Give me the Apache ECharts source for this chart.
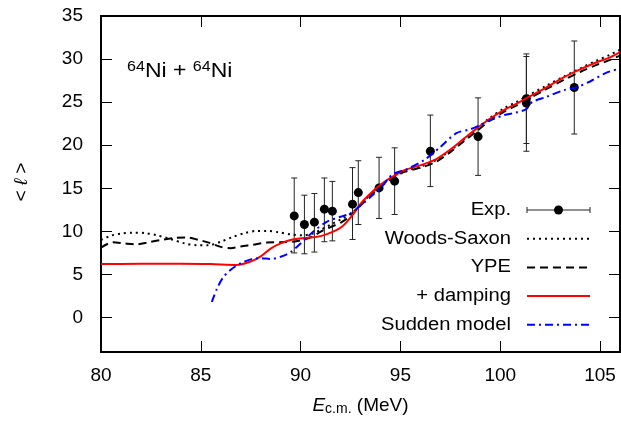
<!DOCTYPE html>
<html>
<head>
<meta charset="utf-8">
<title>64Ni + 64Ni mean angular momentum</title>
<script src="https://cdn.jsdelivr.net/npm/echarts@6/dist/echarts.min.js"></script>
<style>
  html, body { margin: 0; padding: 0; background: #ffffff; }
  #chart { width: 621px; height: 426px; }
</style>
</head>
<body>
<div id="chart"></div>
<script>
// Measured mean angular momentum <l> (MeV c.m. energy, value, error-bar ends)
const expE  = [89.68, 90.19, 90.69, 91.19, 91.59, 92.60, 92.89, 93.93, 94.71, 96.50, 98.89, 101.31, 101.31, 103.71];
const expL  = [11.8, 10.8, 11.07, 12.58, 12.35, 13.16, 14.5, 15.05, 15.83, 19.3, 21.0, 25.4, 24.9, 26.7];
const expHi = [16.2, 14.2, 14.4, 16.2, 15.8, 17.4, 18.2, 18.6, 19.7, 23.5, 25.5, 30.6, 30.3, 32.1];
const expLo = [7.5, 7.4, 7.6, 8.8, 8.9, 9.06, 10.8, 11.5, 11.96, 15.2, 16.5, 20.2, 19.3, 21.3];

// Woods-Saxon potential
const wsE = [80, 80.5, 81, 81.6, 82.2, 82.8, 83.5, 84.2, 84.8, 85.4, 86, 86.6, 87.2, 87.8, 88.3, 88.9, 89.5, 90.1, 90.6, 91.1, 91.6, 92.1, 92.6, 93, 93.5, 94, 94.5, 95.2, 96.1, 96.8, 97.5, 98.2, 98.8, 99.5, 100.2, 100.8, 101.5, 102.3, 103.2, 104, 104.8, 105.5, 106];
const wsL = [9.0, 9.5, 9.75, 9.85, 9.8, 9.55, 9.1, 8.6, 8.4, 8.4, 8.8, 9.35, 9.8, 10.05, 10.05, 9.9, 9.65, 9.55, 9.75, 10.3, 10.9, 11.5, 12.2, 13.1, 14.3, 15.3, 16.1, 17.0, 17.6, 18.3, 19.4, 20.7, 21.9, 23.2, 24.3, 25.0, 25.9, 26.9, 28.0, 28.9, 29.8, 30.5, 31.1];

// YPE potential
const ypeE = [80, 80.6, 81.2, 81.8, 82.4, 83, 83.7, 84.3, 84.9, 85.4, 86, 86.5, 87, 87.6, 88.3, 89, 89.6, 90.1, 90.6, 91.1, 91.5, 92, 92.5, 93, 93.5, 94, 94.5, 95.2, 96.1, 96.8, 97.5, 98.2, 98.8, 99.5, 100.2, 100.8, 101.5, 102.3, 103.2, 104, 104.8, 105.5, 106];
const ypeL = [8.1, 8.75, 8.6, 8.5, 8.75, 9.0, 9.25, 9.3, 9.0, 8.7, 8.2, 8.05, 8.25, 8.45, 8.7, 8.75, 8.8, 9.0, 9.4, 10.1, 10.5, 11.0, 11.8, 13.0, 14.2, 15.2, 16.0, 16.9, 17.45, 18.1, 19.2, 20.5, 21.6, 22.9, 23.9, 24.6, 25.5, 26.5, 27.6, 28.5, 29.3, 29.9, 30.4];

// YPE + damping
const dampE = [80, 82, 84, 85.5, 86.8, 87.5, 88, 88.5, 89, 89.6, 90.3, 91, 91.6, 92.1, 92.6, 93, 93.5, 94, 94.5, 95.2, 96.1, 96.8, 97.5, 98.2, 98.8, 99.5, 100.2, 100.8, 101.5, 102.3, 103.2, 104, 104.8, 105.5, 106];
const dampL = [6.2, 6.25, 6.25, 6.2, 6.1, 6.5, 7.1, 8.0, 8.6, 9.05, 9.25, 9.45, 9.95, 10.6, 11.9, 13.2, 14.4, 15.4, 16.2, 17.1, 17.75, 18.4, 19.5, 20.8, 21.9, 23.1, 24.1, 24.8, 25.7, 26.7, 27.9, 28.8, 29.6, 30.2, 30.8];

// Sudden model
const sudE = [85.55, 85.8, 86.1, 86.5, 87.0, 87.5, 88.0, 88.5, 89.0, 89.5, 90.0, 90.6, 91.3, 92.0, 92.5, 93.0, 93.6, 94.1, 94.6, 95.3, 96.2, 97.0, 97.8, 98.5, 99.0, 99.5, 100.2, 100.8, 101.3, 101.6, 102.3, 103.2, 103.8, 104.5, 105.3, 106];
const sudL = [1.8, 3.3, 4.6, 5.55, 6.3, 6.75, 6.9, 6.8, 7.05, 7.6, 8.6, 9.9, 11.1, 11.7, 12.1, 13.0, 14.2, 15.3, 16.6, 17.2, 18.3, 19.8, 21.4, 21.85, 22.35, 22.9, 23.5, 23.8, 24.2, 25.0, 25.6, 26.4, 26.7, 27.4, 28.4, 28.9];

const legendNames = ['Exp.', 'Woods-Saxon', 'YPE', '+ damping', 'Sudden model'];

const FONT = '"Liberation Sans", Arial, Helvetica, sans-serif';
const zip = (xs, ys) => xs.map((x, i) => [x, ys[i]]);

const styles = {
  ws:   { color: '#000000', width: 2, type: [2, 4] },
  ype:  { color: '#000000', width: 2, type: [8, 5] },
  damp: { color: '#ff0000', width: 2, type: 'solid' },
  sud:  { color: '#0000ff', width: 2, type: [8, 4, 2, 4] }
};

function lineSeries(name, xs, ys, st) {
  return {
    name: name, type: 'line', data: zip(xs, ys),
    smooth: 0.3, showSymbol: false, symbol: 'none', z: 4,
    lineStyle: { color: st.color, width: st.width, type: st.type },
    itemStyle: { color: st.color }
  };
}

const chart = echarts.init(document.getElementById('chart'), null, { renderer: 'canvas' });

const axisCommon = {
  type: 'value',
  axisLine: { show: true, onZero: false, lineStyle: { color: '#000', width: 2 } },
  axisTick: { show: true, inside: true, length: 11, lineStyle: { color: '#000', width: 1 } },
  splitLine: { show: false }
};

// Legend rows built from the series styles
const legX = 511, lineX0 = 527, lineX1 = 590, rowY0 = 210, rowGap = 28.7;
const legendGraphics = [];
legendNames.forEach((nm, i) => {
  const y = rowY0 + i * rowGap;
  legendGraphics.push({
    type: 'text', x: legX, y: y, scaleX: 1.12, z: 10,
    style: { text: nm, font: '18px ' + FONT, fill: '#000', align: 'right', verticalAlign: 'middle' }
  });
});
[styles.ws, styles.ype, styles.damp, styles.sud].forEach((st, k) => {
  const y = rowY0 + (k + 1) * rowGap;
  legendGraphics.push({
    type: 'line', z: 10,
    shape: { x1: lineX0, y1: y, x2: lineX1, y2: y },
    style: { stroke: st.color, lineWidth: st.width, lineDash: Array.isArray(st.type) ? st.type : null }
  });
});
// Exp. sample: horizontal bar with caps and a dot
legendGraphics.push(
  { type: 'line', z: 10, shape: { x1: lineX0, y1: rowY0, x2: lineX1, y2: rowY0 }, style: { stroke: '#222', lineWidth: 1 } },
  { type: 'line', z: 10, shape: { x1: lineX0, y1: rowY0 - 3, x2: lineX0, y2: rowY0 + 3 }, style: { stroke: '#222', lineWidth: 1 } },
  { type: 'line', z: 10, shape: { x1: lineX1, y1: rowY0 - 3, x2: lineX1, y2: rowY0 + 3 }, style: { stroke: '#222', lineWidth: 1 } },
  { type: 'circle', z: 10, shape: { cx: (lineX0 + lineX1) / 2, cy: rowY0, r: 4.5 }, style: { fill: '#000' } }
);

const option = {
  animation: false,
  backgroundColor: '#ffffff',
  textStyle: { fontFamily: FONT },
  grid: { left: 101, right: 1, top: 16, bottom: 74, containLabel: false },
  xAxis: [
    Object.assign({}, axisCommon, {
      min: 80, max: 106, interval: 5, position: 'bottom',
      axisLabel: { color: '#000', fontSize: 19, margin: 14, fontFamily: FONT },
      name: '{i|E}{sub|c.m.}{n| (MeV)}',
      nameLocation: 'middle', nameGap: 44,
      nameTextStyle: {
        rich: {
          i: { fontSize: 19, fontStyle: 'italic', color: '#000', fontFamily: FONT, lineHeight: 20 },
          sub: { fontSize: 14, color: '#000', fontFamily: FONT, verticalAlign: 'bottom', lineHeight: 14, padding: [10, 0, 0, 0] },
          n: { fontSize: 19, color: '#000', fontFamily: FONT, lineHeight: 20 }
        }
      }
    }),
    Object.assign({}, axisCommon, {
      min: 80, max: 106, interval: 5, position: 'top',
      axisLabel: { show: false }
    })
  ],
  yAxis: [
    Object.assign({}, axisCommon, {
      min: -4, max: 35, minInterval: 5, maxInterval: 5, splitNumber: 8, position: 'left',
      axisLabel: {
        color: '#000', fontSize: 19, margin: 18, fontFamily: FONT,
        formatter: v => (Math.abs(v % 5) < 1e-9 ? String(v) : '')
      }
    }),
    Object.assign({}, axisCommon, {
      min: -4, max: 35, minInterval: 5, maxInterval: 5, splitNumber: 8, position: 'right',
      axisLabel: { show: false }
    })
  ],
  graphic: [
    {
      type: 'text', x: 127, y: 71, scaleX: 1.15, z: 10,
      style: {
        text: '{sup|64}{m|Ni + }{sup|64}{m|Ni}',
        verticalAlign: 'middle', align: 'left',
        rich: {
          sup: { fontSize: 14, fontFamily: FONT, fill: '#000', verticalAlign: 'top', lineHeight: 14, padding: [0, 0, 10, 0] },
          m: { fontSize: 20, fontFamily: FONT, fill: '#000', lineHeight: 22 }
        }
      }
    },
    {
      type: 'text', x: 22, y: 182, rotation: Math.PI / 2, z: 10,
      style: {
        text: '{a|< }{l|ℓ}{a| >}', align: 'center', verticalAlign: 'middle',
        rich: {
          a: { fontSize: 19, fontFamily: FONT, fill: '#000' },
          l: { fontSize: 19, fontFamily: FONT, fontStyle: 'italic', fill: '#000' }
        }
      }
    }
  ].concat(legendGraphics),
  series: [
    {
      name: 'Exp. errors', type: 'custom', z: 2,
      data: expE.map((e, i) => [e, expLo[i], expHi[i]]),
      encode: { x: 0, y: [1, 2] },
      renderItem: function (params, api) {
        const x = api.value(0);
        const top = api.coord([x, api.value(2)]);
        const bot = api.coord([x, api.value(1)]);
        const cw = 3;
        const st = { stroke: '#222', lineWidth: 1 };
        return {
          type: 'group',
          children: [
            { type: 'line', shape: { x1: top[0], y1: top[1], x2: bot[0], y2: bot[1] }, style: st },
            { type: 'line', shape: { x1: top[0] - cw, y1: top[1], x2: top[0] + cw, y2: top[1] }, style: st },
            { type: 'line', shape: { x1: bot[0] - cw, y1: bot[1], x2: bot[0] + cw, y2: bot[1] }, style: st }
          ]
        };
      }
    },
    {
      name: 'Exp.', type: 'scatter', z: 3,
      data: zip(expE, expL), symbol: 'circle', symbolSize: 9,
      itemStyle: { color: '#000000', opacity: 1 }
    },
    lineSeries('Woods-Saxon', wsE, wsL, styles.ws),
    lineSeries('YPE', ypeE, ypeL, styles.ype),
    lineSeries('+ damping', dampE, dampL, styles.damp),
    lineSeries('Sudden model', sudE, sudL, styles.sud)
  ]
};

chart.setOption(option);
</script>
</body>
</html>
